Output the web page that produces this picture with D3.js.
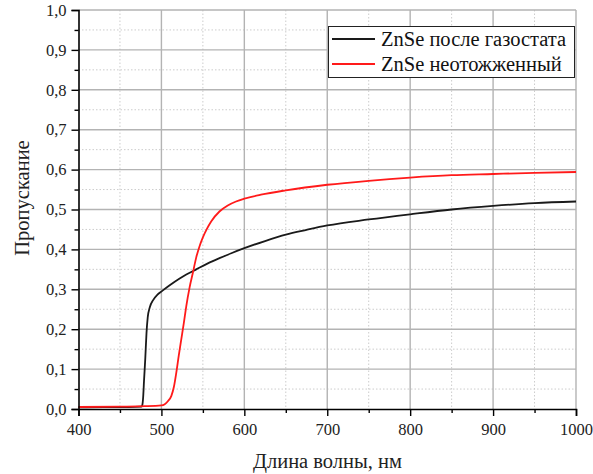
<!DOCTYPE html>
<html>
<head>
<meta charset="utf-8">
<script src="https://cdn.jsdelivr.net/npm/d3@7/dist/d3.min.js"></script>
<style>
  html, body { margin: 0; padding: 0; background: #fff; }
</style>
</head>
<body>
<svg id="chart" width="593" height="474"></svg>
<script>
// Transmission spectra of ZnSe films
const seriesNames = ["ZnSe после газостата", "ZnSe неотожженный"];
const seriesColors = ["#1a1a1a", "#ff1a1a"];

const annealedWl = [400, 430, 460, 476, 477, 478, 479, 480.5, 482, 483.5, 486, 490, 495, 501, 510, 522, 530, 542, 556, 570, 585, 600, 625, 650, 675, 700, 750, 800, 850, 900, 950, 1000];
const annealedT  = [0.004, 0.005, 0.005, 0.006, 0.01, 0.03, 0.07, 0.125, 0.19, 0.23, 0.255, 0.273, 0.286, 0.296, 0.31, 0.327, 0.337, 0.35, 0.365, 0.378, 0.391, 0.403, 0.421, 0.437, 0.449, 0.46, 0.475, 0.488, 0.5, 0.509, 0.516, 0.52];

const rawWl = [400, 450, 480, 500, 504, 508, 512, 515, 518, 521, 524, 527, 530, 534, 538, 542, 546, 550, 555, 560, 570, 580, 590, 600, 620, 650, 700, 750, 800, 850, 900, 950, 1000];
const rawT  = [0.005, 0.006, 0.007, 0.009, 0.012, 0.02, 0.033, 0.055, 0.092, 0.135, 0.175, 0.215, 0.258, 0.305, 0.342, 0.38, 0.408, 0.43, 0.452, 0.47, 0.495, 0.51, 0.52, 0.527, 0.537, 0.548, 0.562, 0.572, 0.58, 0.586, 0.589, 0.592, 0.594];

const xTicks = [400, 500, 600, 700, 800, 900, 1000];
const xMinor = [450, 550, 650, 750, 850, 950];
const yTicks = [0, 0.1, 0.2, 0.3, 0.4, 0.5, 0.6, 0.7, 0.8, 0.9, 1.0];
const yMinor = [0.05, 0.15, 0.25, 0.35, 0.45, 0.55, 0.65, 0.75, 0.85, 0.95];

const xTitle = "Длина волны, нм";
const yTitle = "Пропускание";

const FONT = "Liberation Serif";

const svg = d3.select("#chart");
const x = d3.scaleLinear().domain([400, 1000]).range([78.5, 576]);
const y = d3.scaleLinear().domain([0, 1]).range([409, 10]);
const fmtY = v => d3.format(".1f")(v).replace(".", ",");

// grid: dotted minor lines, solid major lines
const grid = svg.append("g");
grid.selectAll(".gxm").data(xMinor).join("line")
  .attr("x1", d => x(d)).attr("x2", d => x(d)).attr("y1", y(1)).attr("y2", y(0))
  .attr("stroke", "#cccccc").attr("stroke-width", 1).attr("stroke-dasharray", "1.5,2");
grid.selectAll(".gym").data(yMinor).join("line")
  .attr("y1", d => y(d)).attr("y2", d => y(d)).attr("x1", x(400)).attr("x2", x(1000))
  .attr("stroke", "#cccccc").attr("stroke-width", 1).attr("stroke-dasharray", "1.5,2");
grid.selectAll(".gx").data(xTicks.slice(1)).join("line")
  .attr("x1", d => x(d)).attr("x2", d => x(d)).attr("y1", y(1)).attr("y2", y(0))
  .attr("stroke", "#b3b3b3").attr("stroke-width", 1.4);
grid.selectAll(".gy").data(yTicks.slice(1)).join("line")
  .attr("y1", d => y(d)).attr("y2", d => y(d)).attr("x1", x(400)).attr("x2", x(1000))
  .attr("stroke", "#b3b3b3").attr("stroke-width", 1.4);

// curves
const line = d3.line().x(d => x(d[0])).y(d => y(d[1])).curve(d3.curveMonotoneX);
const data = [d3.zip(annealedWl, annealedT), d3.zip(rawWl, rawT)];
svg.append("path").datum(data[0]).attr("d", line).attr("fill", "none")
  .attr("stroke", seriesColors[0]).attr("stroke-width", 1.8);
svg.append("path").datum(data[1]).attr("d", line).attr("fill", "none")
  .attr("stroke", seriesColors[1]).attr("stroke-width", 1.8);

// axes
svg.append("g").attr("transform", `translate(0,${y(0)})`)
  .call(d3.axisBottom(x).tickValues(xTicks).tickSize(7).tickPadding(7).tickFormat(d3.format("d")));
svg.append("g").attr("transform", `translate(0,${y(0)})`)
  .call(d3.axisBottom(x).tickValues(xMinor).tickSize(4).tickFormat(""))
  .call(g => g.select(".domain").remove());
svg.append("g").attr("transform", `translate(${x(400)},0)`)
  .call(d3.axisLeft(y).tickValues(yTicks).tickSize(7).tickPadding(5).tickFormat(fmtY));
svg.append("g").attr("transform", `translate(${x(400)},0)`)
  .call(d3.axisLeft(y).tickValues(yMinor).tickSize(4).tickFormat(""))
  .call(g => g.select(".domain").remove());

svg.selectAll(".domain").attr("stroke", "#000").attr("stroke-width", 1.6);
svg.selectAll(".tick line").attr("stroke", "#000").attr("stroke-width", 1.4);
svg.selectAll(".tick text").attr("font-family", FONT)
  .attr("font-size", 16.5).attr("fill", "#222");

// axis titles
svg.append("text").attr("x", 327.5).attr("y", 468)
  .attr("font-family", FONT)
  .attr("text-anchor", "middle").attr("font-size", 20.5).attr("fill", "#222").text(xTitle);
svg.append("text").attr("transform", "translate(29,198) rotate(-90)")
  .attr("font-family", FONT)
  .attr("text-anchor", "middle").attr("font-size", 20.5).attr("fill", "#222").text(yTitle);

// legend
const lg = svg.append("g");
lg.append("rect").attr("x", 328.5).attr("y", 26.5).attr("width", 246).attr("height", 51)
  .attr("fill", "#fff").attr("stroke", "#222").attr("stroke-width", 1);
seriesNames.forEach((name, i) => {
  const cy = 39 + i * 25;
  lg.append("line").attr("x1", 332).attr("x2", 375).attr("y1", cy).attr("y2", cy)
    .attr("stroke", seriesColors[i]).attr("stroke-width", 1.8);
  lg.append("text").attr("x", 381).attr("y", cy).attr("dy", "0.33em")
    .attr("font-family", FONT)
    .attr("font-size", 20.5).attr("fill", "#111").text(name);
});
</script>
</body>
</html>
